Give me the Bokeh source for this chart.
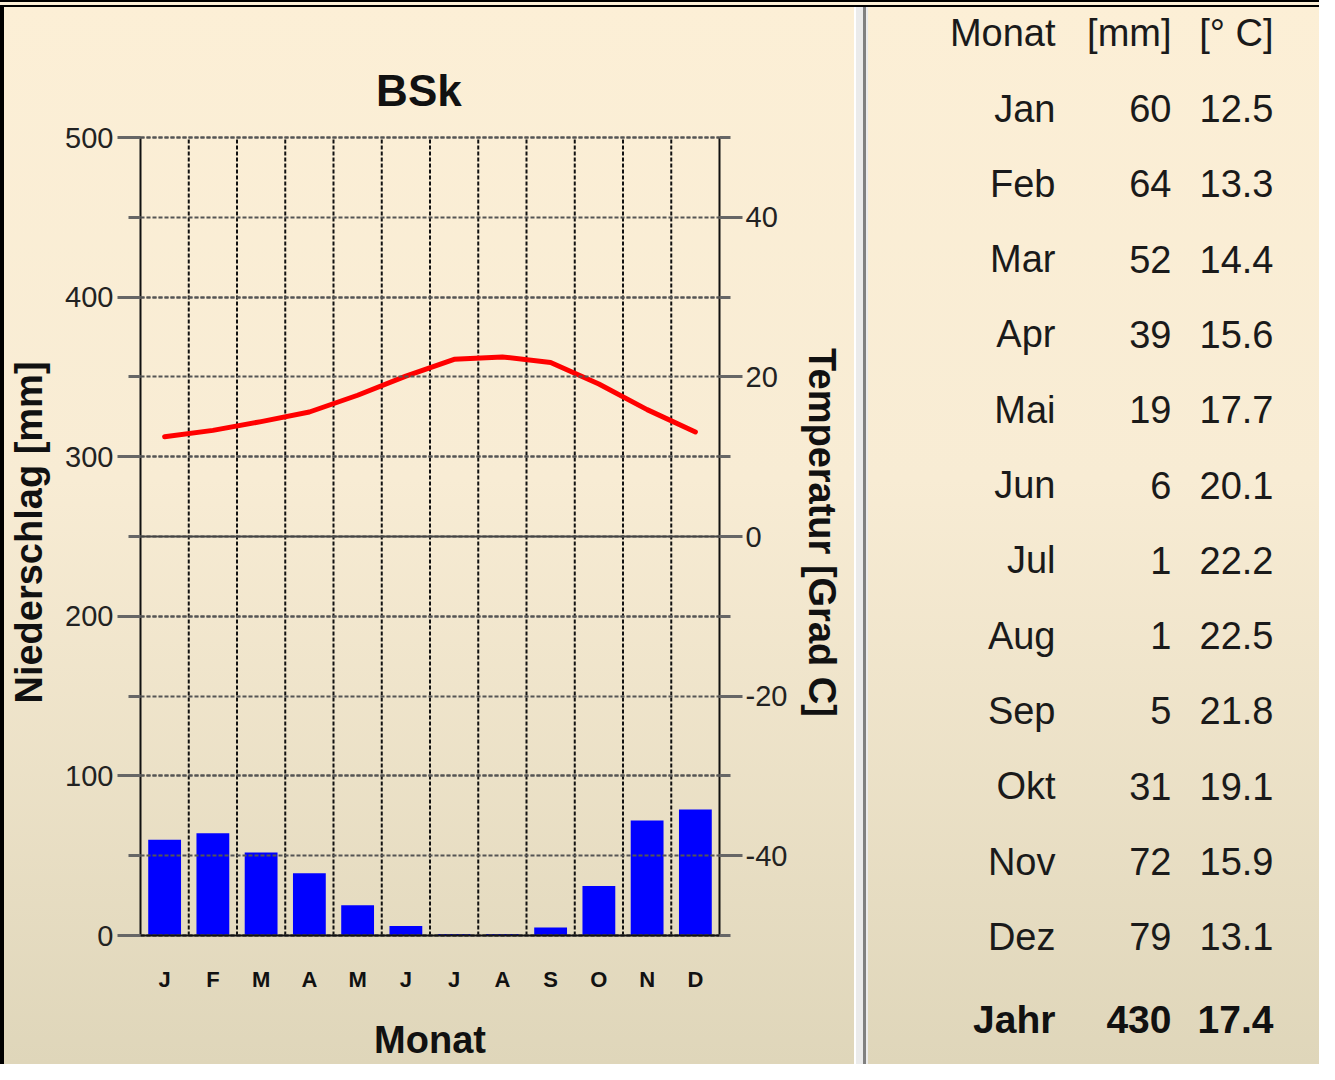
from bokeh.plotting import figure
from bokeh.models import (Range1d, LinearAxis, SingleIntervalTicker, Span, ColumnDataSource,
                          Label, PrintfTickFormatter)
from bokeh.layouts import row
from bokeh.core.properties import value
from bokeh.embed import file_html
from bokeh.resources import INLINE

# ---------------- data ----------------
month_initials = ["J", "F", "M", "A", "M", "J", "J", "A", "S", "O", "N", "D"]
month_names = ["Jan", "Feb", "Mar", "Apr", "Mai", "Jun", "Jul", "Aug", "Sep", "Okt", "Nov", "Dez"]
precip_mm = [60, 64, 52, 39, 19, 6, 1, 1, 5, 31, 72, 79]
temp_c = [12.5, 13.3, 14.4, 15.6, 17.7, 20.1, 22.2, 22.5, 21.8, 19.1, 15.9, 13.1]
annual_mm = 430
annual_temp = 17.4
climate_class = "BSk"
header = ["Monat", "[mm]", "[° C]"]

MM_MAX = 500            # precipitation axis 0..500 mm
T_MIN, T_MAX = -50, 50  # temperature axis, 10 degC == 50 mm

FONT = "Liberation Sans"
BG_TOP = "#FCEFD6"
GRADIENT = "linear-gradient(to bottom, #FCEFD6 0%, #F8ECD4 45%, #DFD6BA 100%)"
TOP_BORDER = "inset 0 2px 0 0 #000, inset 0 5px 0 0 %s, inset 0 7px 0 0 #000" % BG_TOP

HEIGHT = 1064
PLOT_TOP, PLOT_BOTTOM = 137, 935          # canvas rows of 500 mm and 0 mm
PX_PER_MM = (PLOT_BOTTOM - PLOT_TOP) / MM_MAX


def mm_at(cy):
    """mm value that sits at canvas row cy"""
    return MM_MAX - (cy - PLOT_TOP) / PX_PER_MM


def temp_of(mm):
    return T_MIN + (T_MAX - T_MIN) * mm / MM_MAX


n = len(month_initials)
xc = [i + 0.5 for i in range(n)]
y_lo, y_hi = mm_at(HEIGHT), mm_at(0)

# ---------------- chart ----------------
p = figure(width=854, height=HEIGHT, x_range=Range1d(0, n), y_range=Range1d(y_lo, y_hi),
           output_backend="svg", toolbar_location=None, title_location=None,
           x_axis_location=None,
           min_border_left=140, min_border_right=135, min_border_top=0, min_border_bottom=0,
           background_fill_color=None, border_fill_color=None, outline_line_color=None)
p.styles = {"background": GRADIENT,
            "box-shadow": TOP_BORDER + ", inset 4px 0 0 0 #000"}
p.xgrid.grid_line_color = None
p.xgrid.visible = False

p.extra_y_ranges = {"temp": Range1d(temp_of(y_lo), temp_of(y_hi))}

# left axis
ya = p.yaxis[0]
ya.bounds = (0, MM_MAX)
ya.ticker = SingleIntervalTicker(interval=100, num_minor_ticks=2)
ya.axis_line_color = "#111"
ya.axis_line_width = 2
ya.major_tick_in = 0
ya.major_tick_out = 23
ya.minor_tick_in = 0
ya.minor_tick_out = 12
ya.major_tick_line_color = "#666"
ya.minor_tick_line_color = "#666"
ya.major_tick_line_width = 3
ya.minor_tick_line_width = 3
ya.major_label_text_font = FONT
ya.major_label_text_font_size = "29px"
ya.major_label_text_color = "#222"
ya.major_label_standoff = 4
ya.axis_label = "Niederschlag [mm]"
ya.axis_label_text_font = FONT
ya.axis_label_text_font_size = "38px"
ya.axis_label_text_font_style = "bold"
ya.axis_label_text_color = "#111"
ya.axis_label_standoff = 12

# right axis
ra = LinearAxis(y_range_name="temp", bounds=(T_MIN, T_MAX),
                ticker=SingleIntervalTicker(interval=20, num_minor_ticks=2),
                formatter=PrintfTickFormatter(format="%d"))
ra.axis_line_color = "#111"
ra.axis_line_width = 2
ra.major_tick_in = 0
ra.major_tick_out = 23
ra.minor_tick_in = 0
ra.minor_tick_out = 11
ra.major_tick_line_color = "#666"
ra.minor_tick_line_color = "#666"
ra.major_tick_line_width = 3
ra.minor_tick_line_width = 3
ra.major_label_text_font = FONT
ra.major_label_text_font_size = "29px"
ra.major_label_text_color = "#222"
ra.major_label_standoff = 3
ra.axis_label = "Temperatur [Grad C]"
ra.axis_label_text_font = FONT
ra.axis_label_text_font_size = "38px"
ra.axis_label_text_font_style = "bold"
ra.axis_label_text_color = "#111"
ra.axis_label_standoff = 11
p.add_layout(ra, "right")

# horizontal grid (every 50 mm == every 10 degC)
p.ygrid.bounds = (0, MM_MAX)
p.ygrid.grid_line_color = "#555"
p.ygrid.grid_line_width = 2
p.ygrid.grid_line_dash = "4 2"
p.ygrid.minor_grid_line_color = "#555"
p.ygrid.minor_grid_line_width = 2
p.ygrid.minor_grid_line_dash = "4 2"
p.ygrid.level = "overlay"

# vertical month separators
bounds_x = list(range(1, n))
p.segment(x0=bounds_x, x1=bounds_x, y0=[0] * len(bounds_x), y1=[MM_MAX] * len(bounds_x),
          line_color="#111", line_width=2, line_dash="4 2")

src = ColumnDataSource(dict(x=xc, mm=precip_mm, t=temp_c, lab=month_initials))
p.vbar(x="x", top="mm", bottom=0, width=0.68, source=src,
       fill_color="#0000FF", line_color=None)
p.line(x="x", y="t", source=src, y_range_name="temp", line_color="#FF0000", line_width=5,
       line_join="round", line_cap="round")

# 0 degC line and 0 mm baseline
p.add_layout(Span(location=0, dimension="width", y_range_name="temp",
                  line_color="#444", line_width=2, level="overlay"))
p.add_layout(Span(location=0, dimension="width", line_color="#111", line_width=2,
                  level="overlay"))

# month initials below the bars
p.text(x="x", y=mm_at(979), text="lab", source=src, text_align="center",
       text_baseline="middle", text_font=value(FONT), text_font_size="22px",
       text_font_style="bold", text_color="#111")

# x axis title and chart title
p.add_layout(Label(x=n / 2, y=mm_at(1039), text="Monat", text_align="center",
                   text_baseline="middle", text_font=FONT, text_font_size="38px",
                   text_font_style="bold", text_color="#111"))
p.add_layout(Label(x=n / 2 - 0.23, y=mm_at(90), text=climate_class, text_align="center",
                   text_baseline="middle", text_font=FONT, text_font_size="44px",
                   text_font_style="bold", text_color="#111"))

# ---------------- table ----------------
ROW0, ROWH = 32.7, 75.3      # canvas row of the header line, row pitch
t = figure(width=465, height=HEIGHT, x_range=Range1d(0, 465),
           y_range=Range1d((HEIGHT - ROW0) / ROWH, -ROW0 / ROWH),
           output_backend="svg", toolbar_location=None, title_location=None,
           x_axis_type=None, y_axis_type=None, min_border=0,
           background_fill_color=None, border_fill_color=None, outline_line_color=None)
t.styles = {"background": GRADIENT,
            "box-shadow": TOP_BORDER + ", inset 2px 0 0 0 #FFFFFF, inset 9px 0 0 0 #EBEBEB, "
                                       "inset 12px 0 0 0 #808080, inset 14px 0 0 0 #EBEBEB"}

col_x = [201, 317, 419]
rows_y = list(range(n + 1))
columns = [[header[0]] + month_names,
           [header[1]] + [str(v) for v in precip_mm],
           [header[2]] + ["%.1f" % v for v in temp_c]]
for cx, col in zip(col_x, columns):
    t.text(x=[cx] * len(col), y=rows_y, text=col, text_align="right", text_baseline="middle",
           text_font=value(FONT), text_font_size="38px", text_color="#1a1a1a")

jahr_vals = ["Jahr", str(annual_mm), "%.1f" % annual_temp]
t.text(x=col_x, y=[n + 1.1] * 3, text=jahr_vals, text_align="right", text_baseline="middle",
       text_font=value(FONT), text_font_size="39px", text_font_style="bold",
       text_color="#111")

layout = row(p, t)
open("out.html", "w").write(file_html(layout, INLINE))
